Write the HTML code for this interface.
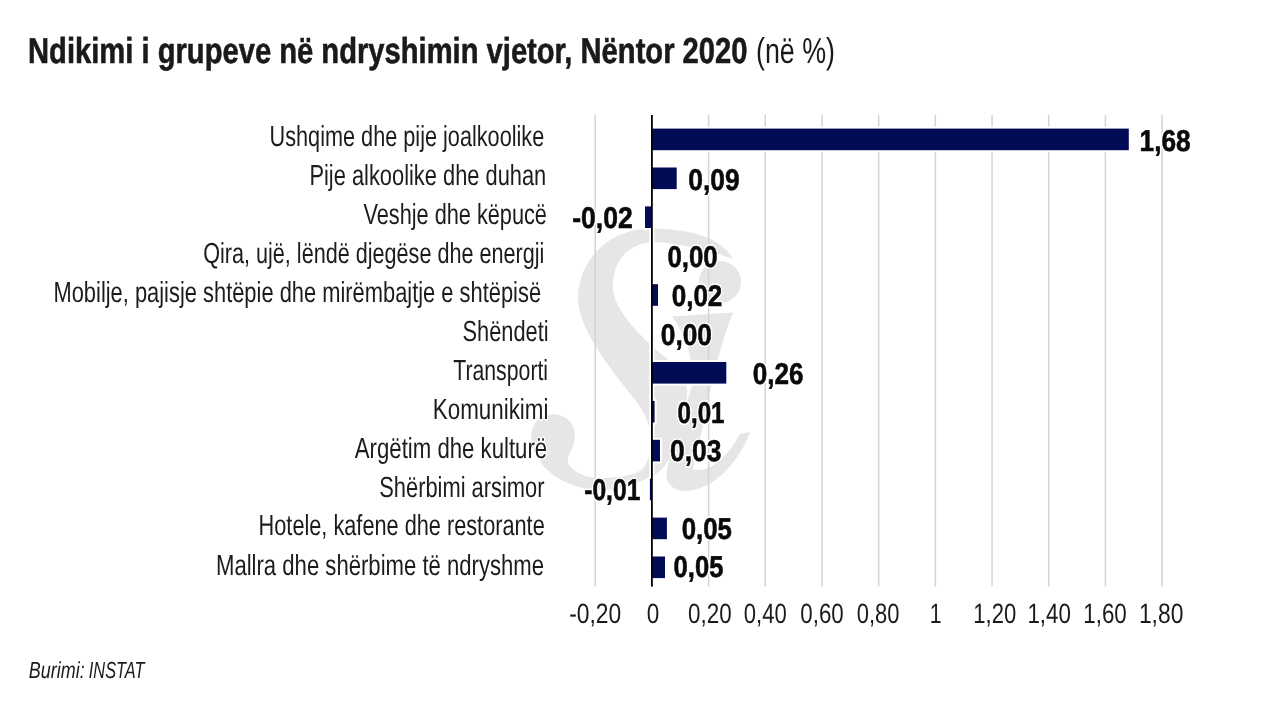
<!DOCTYPE html><html><head><meta charset="utf-8"><title>Ndikimi i grupeve</title><style>html,body{margin:0;padding:0;background:#fff;width:1280px;height:720px;overflow:hidden}svg{display:block;will-change:transform}text{font-family:"Liberation Sans",Arial,sans-serif;white-space:pre}</style></head><body>
<svg width="1280" height="720" viewBox="0 0 1280 720" text-rendering="geometricPrecision">
<rect width="1280" height="720" fill="#fff"/>

<g fill="#e6e6e6">
 <path d="M733 259 C722 238 690 228.5 651 228.5 C608 228.5 578 262 578 298 C578 330 612 370 635 400 C651 418 658 450 642 469.5 C632 477 612 478 595 477.7 C583 477 572 471 568 463 C566 455 575 448 575 436 C575 423 566 414.4 553.75 414.4 C540 414.4 531.25 424 531.25 436 C531.25 460 555 486 595 490 C620 491.5 645 481 660 471 C674 458 686 425 687 395 C689 376 672 362 660 353 C640 336 614 310 613 288 C612 260 630 242 655 242 C685 244 712 251 733 259 Z"/>
 <circle cx="720" cy="282" r="21"/>
 <path d="M672 316.5 L733 312.5 C722 340 714 372 708 400 C703 425 698 450 693 469 C705 474 725 462 740 434 L750 432 C740 460 715 490 686 491 C672 491 664 482 667 470 C672 445 684 415 692 385 C694 370 690 340 672 316.5 Z"/>
</g>
<rect x="594.46" y="115.0" width="1.5" height="471.6" fill="#d4d4d4"/>
<rect x="707.84" y="115.0" width="1.5" height="471.6" fill="#d4d4d4"/>
<rect x="764.53" y="115.0" width="1.5" height="471.6" fill="#d4d4d4"/>
<rect x="821.22" y="115.0" width="1.5" height="471.6" fill="#d4d4d4"/>
<rect x="877.91" y="115.0" width="1.5" height="471.6" fill="#d4d4d4"/>
<rect x="934.60" y="115.0" width="1.5" height="471.6" fill="#d4d4d4"/>
<rect x="991.29" y="115.0" width="1.5" height="471.6" fill="#d4d4d4"/>
<rect x="1047.98" y="115.0" width="1.5" height="471.6" fill="#d4d4d4"/>
<rect x="1104.67" y="115.0" width="1.5" height="471.6" fill="#d4d4d4"/>
<rect x="1161.36" y="115.0" width="1.5" height="471.6" fill="#d4d4d4"/>
<rect x="649.30" y="115.0" width="5.2" height="471.6" fill="#fff"/>
<rect x="651.90" y="128.60" width="476.90" height="21.6" fill="#020b56" stroke="#fff" stroke-width="4" paint-order="stroke"/>
<rect x="651.90" y="167.50" width="24.80" height="21.6" fill="#020b56" stroke="#fff" stroke-width="4" paint-order="stroke"/>
<rect x="645.00" y="206.40" width="6.90" height="21.6" fill="#020b56" stroke="#fff" stroke-width="4" paint-order="stroke"/>
<rect x="651.90" y="284.20" width="6.10" height="21.6" fill="#020b56" stroke="#fff" stroke-width="4" paint-order="stroke"/>
<rect x="651.90" y="362.00" width="74.40" height="21.6" fill="#020b56" stroke="#fff" stroke-width="4" paint-order="stroke"/>
<rect x="651.90" y="400.90" width="2.70" height="21.6" fill="#020b56" stroke="#fff" stroke-width="4" paint-order="stroke"/>
<rect x="651.90" y="439.80" width="8.10" height="21.6" fill="#020b56" stroke="#fff" stroke-width="4" paint-order="stroke"/>
<rect x="649.90" y="478.70" width="2.00" height="21.6" fill="#020b56" stroke="#fff" stroke-width="4" paint-order="stroke"/>
<rect x="651.90" y="517.60" width="15.00" height="21.6" fill="#020b56" stroke="#fff" stroke-width="4" paint-order="stroke"/>
<rect x="651.90" y="556.50" width="13.10" height="21.6" fill="#020b56" stroke="#fff" stroke-width="4" paint-order="stroke"/>
<rect x="651.00" y="115.0" width="1.8" height="471.6" fill="#000"/>
<text transform="matrix(0.8099 0 0 1 28.06 62.70)" font-size="36" font-weight="bold" fill="#1a1a1a" stroke="#1a1a1a" stroke-width="0.6" stroke-linejoin="round">Ndikimi i grupeve në ndryshimin vjetor, Nëntor 2020</text>
<text transform="matrix(0.7451 0 0 1 755.97 62.70)" font-size="36" fill="#1a1a1a">(në %)</text>
<text transform="matrix(0.7474 0 0 1 269.53 145.60)" font-size="29" fill="#fff" stroke="#fff" stroke-width="3" stroke-linejoin="round">Ushqime dhe pije joalkoolike</text><text transform="matrix(0.7474 0 0 1 269.53 145.60)" font-size="29" fill="#1c1c1c">Ushqime dhe pije joalkoolike</text>
<text transform="matrix(0.7533 0 0 1 309.43 184.52)" font-size="29" fill="#fff" stroke="#fff" stroke-width="3" stroke-linejoin="round">Pije alkoolike dhe duhan</text><text transform="matrix(0.7533 0 0 1 309.43 184.52)" font-size="29" fill="#1c1c1c">Pije alkoolike dhe duhan</text>
<text transform="matrix(0.7486 0 0 1 363.47 223.54)" font-size="29" fill="#fff" stroke="#fff" stroke-width="3" stroke-linejoin="round">Veshje dhe këpucë</text><text transform="matrix(0.7486 0 0 1 363.47 223.54)" font-size="29" fill="#1c1c1c">Veshje dhe këpucë</text>
<text transform="matrix(0.7453 0 0 1 203.13 262.56)" font-size="29" fill="#fff" stroke="#fff" stroke-width="3" stroke-linejoin="round">Qira, ujë, lëndë djegëse dhe energji</text><text transform="matrix(0.7453 0 0 1 203.13 262.56)" font-size="29" fill="#1c1c1c">Qira, ujë, lëndë djegëse dhe energji</text>
<text transform="matrix(0.7543 0 0 1 53.48 301.58)" font-size="29" fill="#fff" stroke="#fff" stroke-width="3" stroke-linejoin="round">Mobilje, pajisje shtëpie dhe mirëmbajtje e shtëpisë</text><text transform="matrix(0.7543 0 0 1 53.48 301.58)" font-size="29" fill="#1c1c1c">Mobilje, pajisje shtëpie dhe mirëmbajtje e shtëpisë</text>
<text transform="matrix(0.7522 0 0 1 462.52 340.60)" font-size="29" fill="#fff" stroke="#fff" stroke-width="3" stroke-linejoin="round">Shëndeti</text><text transform="matrix(0.7522 0 0 1 462.52 340.60)" font-size="29" fill="#1c1c1c">Shëndeti</text>
<text transform="matrix(0.7328 0 0 1 453.21 379.80)" font-size="29" fill="#fff" stroke="#fff" stroke-width="3" stroke-linejoin="round">Transporti</text><text transform="matrix(0.7328 0 0 1 453.21 379.80)" font-size="29" fill="#1c1c1c">Transporti</text>
<text transform="matrix(0.7712 0 0 1 432.84 418.64)" font-size="29" fill="#fff" stroke="#fff" stroke-width="3" stroke-linejoin="round">Komunikimi</text><text transform="matrix(0.7712 0 0 1 432.84 418.64)" font-size="29" fill="#1c1c1c">Komunikimi</text>
<text transform="matrix(0.7648 0 0 1 354.83 457.66)" font-size="29" fill="#fff" stroke="#fff" stroke-width="3" stroke-linejoin="round">Argëtim dhe kulturë</text><text transform="matrix(0.7648 0 0 1 354.83 457.66)" font-size="29" fill="#1c1c1c">Argëtim dhe kulturë</text>
<text transform="matrix(0.7543 0 0 1 379.21 496.68)" font-size="29" fill="#fff" stroke="#fff" stroke-width="3" stroke-linejoin="round">Shërbimi arsimor</text><text transform="matrix(0.7543 0 0 1 379.21 496.68)" font-size="29" fill="#1c1c1c">Shërbimi arsimor</text>
<text transform="matrix(0.7489 0 0 1 258.59 535.20)" font-size="29" fill="#fff" stroke="#fff" stroke-width="3" stroke-linejoin="round">Hotele, kafene dhe restorante</text><text transform="matrix(0.7489 0 0 1 258.59 535.20)" font-size="29" fill="#1c1c1c">Hotele, kafene dhe restorante</text>
<text transform="matrix(0.7624 0 0 1 215.96 574.70)" font-size="29" fill="#fff" stroke="#fff" stroke-width="3" stroke-linejoin="round">Mallra dhe shërbime të ndryshme</text><text transform="matrix(0.7624 0 0 1 215.96 574.70)" font-size="29" fill="#1c1c1c">Mallra dhe shërbime të ndryshme</text>
<text transform="matrix(0.8752 0 0 1 1139.54 151.00)" font-size="30" font-weight="bold" fill="#fff" stroke="#fff" stroke-width="3.6" stroke-linejoin="round">1,68</text><text transform="matrix(0.8752 0 0 1 1139.54 151.00)" font-size="30" font-weight="bold" fill="#0a0a0a" stroke="#0a0a0a" stroke-width="0.6" stroke-linejoin="round">1,68</text>
<text transform="matrix(0.8796 0 0 1 688.24 190.00)" font-size="30" font-weight="bold" fill="#fff" stroke="#fff" stroke-width="3.6" stroke-linejoin="round">0,09</text><text transform="matrix(0.8796 0 0 1 688.24 190.00)" font-size="30" font-weight="bold" fill="#0a0a0a" stroke="#0a0a0a" stroke-width="0.6" stroke-linejoin="round">0,09</text>
<text transform="matrix(0.8847 0 0 1 572.16 228.30)" font-size="30" font-weight="bold" fill="#fff" stroke="#fff" stroke-width="3.6" stroke-linejoin="round">-0,02</text><text transform="matrix(0.8847 0 0 1 572.16 228.30)" font-size="30" font-weight="bold" fill="#0a0a0a" stroke="#0a0a0a" stroke-width="0.6" stroke-linejoin="round">-0,02</text>
<text transform="matrix(0.8600 0 0 1 667.45 266.70)" font-size="30" font-weight="bold" fill="#fff" stroke="#fff" stroke-width="3.6" stroke-linejoin="round">0,00</text><text transform="matrix(0.8600 0 0 1 667.45 266.70)" font-size="30" font-weight="bold" fill="#0a0a0a" stroke="#0a0a0a" stroke-width="0.6" stroke-linejoin="round">0,00</text>
<text transform="matrix(0.8684 0 0 1 671.65 305.80)" font-size="30" font-weight="bold" fill="#fff" stroke="#fff" stroke-width="3.6" stroke-linejoin="round">0,02</text><text transform="matrix(0.8684 0 0 1 671.65 305.80)" font-size="30" font-weight="bold" fill="#0a0a0a" stroke="#0a0a0a" stroke-width="0.6" stroke-linejoin="round">0,02</text>
<text transform="matrix(0.8759 0 0 1 660.84 344.70)" font-size="30" font-weight="bold" fill="#fff" stroke="#fff" stroke-width="3.6" stroke-linejoin="round">0,00</text><text transform="matrix(0.8759 0 0 1 660.84 344.70)" font-size="30" font-weight="bold" fill="#0a0a0a" stroke="#0a0a0a" stroke-width="0.6" stroke-linejoin="round">0,00</text>
<text transform="matrix(0.8690 0 0 1 752.85 383.70)" font-size="30" font-weight="bold" fill="#fff" stroke="#fff" stroke-width="3.6" stroke-linejoin="round">0,26</text><text transform="matrix(0.8690 0 0 1 752.85 383.70)" font-size="30" font-weight="bold" fill="#0a0a0a" stroke="#0a0a0a" stroke-width="0.6" stroke-linejoin="round">0,26</text>
<text transform="matrix(0.8055 0 0 1 677.51 422.50)" font-size="30" font-weight="bold" fill="#fff" stroke="#fff" stroke-width="3.6" stroke-linejoin="round">0,01</text><text transform="matrix(0.8055 0 0 1 677.51 422.50)" font-size="30" font-weight="bold" fill="#0a0a0a" stroke="#0a0a0a" stroke-width="0.6" stroke-linejoin="round">0,01</text>
<text transform="matrix(0.8813 0 0 1 669.93 460.80)" font-size="30" font-weight="bold" fill="#fff" stroke="#fff" stroke-width="3.6" stroke-linejoin="round">0,03</text><text transform="matrix(0.8813 0 0 1 669.93 460.80)" font-size="30" font-weight="bold" fill="#0a0a0a" stroke="#0a0a0a" stroke-width="0.6" stroke-linejoin="round">0,03</text>
<text transform="matrix(0.8206 0 0 1 584.23 500.00)" font-size="30" font-weight="bold" fill="#fff" stroke="#fff" stroke-width="3.6" stroke-linejoin="round">-0,01</text><text transform="matrix(0.8206 0 0 1 584.23 500.00)" font-size="30" font-weight="bold" fill="#0a0a0a" stroke="#0a0a0a" stroke-width="0.6" stroke-linejoin="round">-0,01</text>
<text transform="matrix(0.8603 0 0 1 681.65 538.75)" font-size="30" font-weight="bold" fill="#fff" stroke="#fff" stroke-width="3.6" stroke-linejoin="round">0,05</text><text transform="matrix(0.8603 0 0 1 681.65 538.75)" font-size="30" font-weight="bold" fill="#0a0a0a" stroke="#0a0a0a" stroke-width="0.6" stroke-linejoin="round">0,05</text>
<text transform="matrix(0.8532 0 0 1 673.56 577.25)" font-size="30" font-weight="bold" fill="#fff" stroke="#fff" stroke-width="3.6" stroke-linejoin="round">0,05</text><text transform="matrix(0.8532 0 0 1 673.56 577.25)" font-size="30" font-weight="bold" fill="#0a0a0a" stroke="#0a0a0a" stroke-width="0.6" stroke-linejoin="round">0,05</text>
<text transform="matrix(0.8154 0 0 1 569.23 623.20)" font-size="28" fill="#1a1a1a">-0,20</text>
<text transform="matrix(0.8032 0 0 1 646.83 623.20)" font-size="28" fill="#1a1a1a">0</text>
<text transform="matrix(0.7989 0 0 1 688.03 623.20)" font-size="28" fill="#1a1a1a">0,20</text>
<text transform="matrix(0.7874 0 0 1 743.85 623.20)" font-size="28" fill="#1a1a1a">0,40</text>
<text transform="matrix(0.7970 0 0 1 800.33 623.20)" font-size="28" fill="#1a1a1a">0,60</text>
<text transform="matrix(0.7836 0 0 1 856.75 623.20)" font-size="28" fill="#1a1a1a">0,80</text>
<text transform="matrix(0.7602 0 0 1 929.81 623.20)" font-size="28" fill="#1a1a1a">1</text>
<text transform="matrix(0.7873 0 0 1 973.25 623.20)" font-size="28" fill="#1a1a1a">1,20</text>
<text transform="matrix(0.7990 0 0 1 1027.43 623.20)" font-size="28" fill="#1a1a1a">1,40</text>
<text transform="matrix(0.7990 0 0 1 1083.23 623.20)" font-size="28" fill="#1a1a1a">1,60</text>
<text transform="matrix(0.8165 0 0 1 1138.89 623.20)" font-size="28" fill="#1a1a1a">1,80</text>
<text transform="matrix(0.7749 0 0 1 28.79 678.00)" font-size="23.2" font-style="italic" fill="#1a1a1a">Burimi:</text>
<text transform="matrix(0.7049 0 0 1 88.79 678.00)" font-size="23.2" font-style="italic" fill="#1a1a1a">INSTAT</text>
</svg></body></html>
